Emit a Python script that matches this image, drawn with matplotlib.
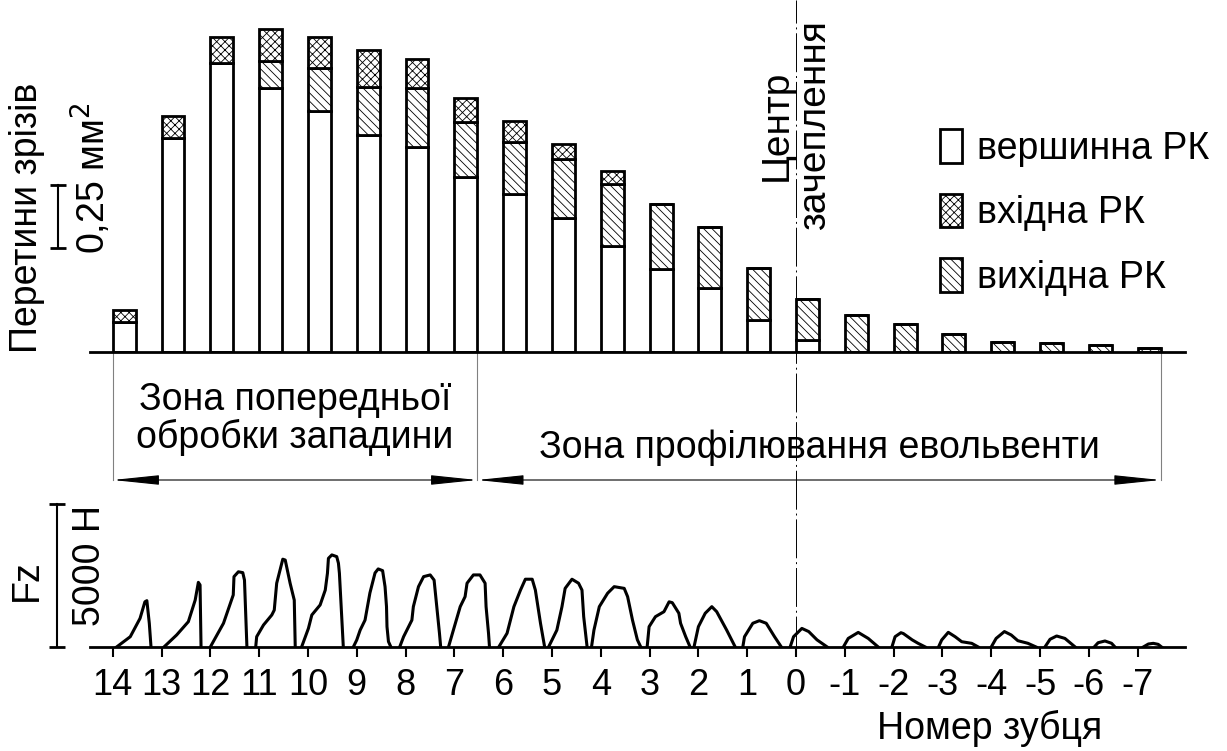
import numpy as np
import matplotlib
matplotlib.use('Agg')
import matplotlib.pyplot as plt
from matplotlib.patches import Patch
from matplotlib.lines import Line2D
from matplotlib.transforms import blended_transform_factory

plt.rcParams['font.family'] = ['Liberation Sans', 'DejaVu Sans']
plt.rcParams['hatch.linewidth'] = 0.6
plt.rcParams['hatch.color'] = 'black'

# tooth numbers, left to right
teeth = [14, 13, 12, 11, 10, 9, 8, 7, 6, 5, 4, 3, 2, 1, 0, -1, -2, -3, -4, -5, -6, -7]

# chip cross-section areas, mm^2
vershynna = [0.119, 0.849, 1.147, 1.048, 0.956, 0.861, 0.813, 0.694, 0.627, 0.532, 0.421,
             0.329, 0.254, 0.127, 0.048, 0, 0, 0, 0, 0, 0, 0]
vykhidna = [0, 0, 0, 0.107, 0.171, 0.190, 0.234, 0.218, 0.206, 0.234, 0.246,
            0.258, 0.242, 0.206, 0.163, 0.147, 0.111, 0.071, 0.040, 0.036, 0.028, 0.016]
vkhidna = [0.048, 0.087, 0.103, 0.127, 0.123, 0.147, 0.115, 0.095, 0.083, 0.060, 0.052,
           0, 0, 0, 0, 0, 0, 0, 0, 0, 0, 0]

# Fz force traces per tooth: position within tooth pitch and force, N
fz_dx = [
    [0.08, 0.36, 0.56, 0.66, 0.70, 0.75, 0.785],
    [0.05, 0.31, 0.55, 0.69, 0.755, 0.79, 0.81],
    [0.0, 0.27, 0.47, 0.485, 0.575, 0.665, 0.70, 0.75],
    [-0.07, -0.05, 0.09, 0.26, 0.31, 0.36, 0.485, 0.535, 0.635, 0.72, 0.74],
    [-0.13, 0.01, 0.08, 0.25, 0.355, 0.40, 0.42, 0.49, 0.59, 0.625, 0.645, 0.725],
    [-0.07, 0.0, 0.07, 0.17, 0.27, 0.375, 0.44, 0.53, 0.58, 0.61, 0.62, 0.65, 0.70],
    [-0.12, -0.04, 0.13, 0.16, 0.265, 0.37, 0.505, 0.585, 0.64, 0.695, 0.72],
    [-0.12, -0.02, 0.12, 0.22, 0.26, 0.39, 0.525, 0.63, 0.65, 0.70, 0.72],
    [-0.09, 0.08, 0.22, 0.355, 0.455, 0.595, 0.66, 0.765, 0.85],
    [-0.07, 0.10, 0.205, 0.27, 0.41, 0.545, 0.615, 0.65, 0.72],
    [-0.19, -0.14, -0.03, 0.14, 0.275, 0.48, 0.55, 0.65, 0.75, 0.82],
    [-0.05, -0.01, 0.12, 0.295, 0.40, 0.465, 0.60, 0.635, 0.74, 0.83],
    [-0.09, 0.0, 0.14, 0.275, 0.375, 0.58, 0.755],
    [-0.09, -0.055, 0.115, 0.25, 0.39, 0.56, 0.70],
    [-0.12, -0.05, 0.12, 0.26, 0.43, 0.64],
    [-0.03, 0.07, 0.275, 0.48, 0.685],
    [-0.035, 0.03, 0.15, 0.20, 0.38, 0.50, 0.65],
    [-0.08, -0.015, 0.12, 0.26, 0.395, 0.60, 0.735],
    [0.0, 0.10, 0.27, 0.41, 0.545, 0.75, 0.92],
    [0.10, 0.205, 0.34, 0.51, 0.72],
    [0.11, 0.19, 0.33, 0.465, 0.535],
    [0.115, 0.22, 0.32, 0.42, 0.49],
]
fz_n = [
    [0, 360, 1000, 1580, 1620, 830, 0],
    [0, 420, 885, 1640, 2260, 2170, 0],
    [0, 830, 1820, 2460, 2630, 2600, 2340, 0],
    [0, 360, 770, 1120, 1290, 2230, 3070, 3040, 2230, 1640, 0],
    [0, 650, 1120, 1470, 1990, 2580, 3100, 3220, 3160, 2930, 2580, 0],
    [0, 245, 590, 940, 1890, 2590, 2730, 2670, 2110, 1410, 710, 190, 0],
    [0, 360, 940, 1410, 2110, 2460, 2520, 2340, 1410, 480, 0],
    [0, 590, 1410, 1760, 2230, 2520, 2520, 2230, 1410, 480, 0],
    [0, 480, 1410, 1990, 2370, 2370, 1990, 830, 0],
    [0, 590, 1410, 2050, 2370, 2230, 1990, 1060, 0],
    [0, 590, 1410, 1880, 2110, 2050, 1760, 940, 250, 0],
    [0, 710, 1060, 1235, 1580, 1550, 1180, 830, 360, 0],
    [0, 710, 1180, 1410, 1235, 590, 0],
    [0, 360, 830, 920, 830, 360, 0],
    [0, 360, 650, 540, 250, 0],
    [0, 300, 510, 300, 0],
    [0, 360, 500, 470, 250, 130, 0],
    [0, 245, 513, 360, 185, 128, 0],
    [0, 300, 540, 420, 220, 130, 0],
    [0, 270, 385, 300, 0],
    [0, 150, 210, 130, 0],
    [0, 105, 128, 93, 0],
]

W, H = 1227, 751
def fx(px):
    return px / W
def fy(py):
    return 1 - py / H

pos = np.arange(len(teeth))
bar_w = 0.47
white = np.array(vershynna)
diag = np.array(vykhidna)
cross = np.array(vkhidna)
hatch_diag = '\\\\\\\\'
hatch_cross = 'xxxx'
fs = 27

fig = plt.figure(figsize=(W / 100, H / 100), dpi=100)
left, width = fx(90), fx(1185) - fx(90)
xlim = (-0.465, 21.97)

# upper panel: chip cross sections
ax = fig.add_axes([left, fy(352), width, 352 / H])
ax.set_xlim(*xlim)
ax.set_ylim(0, 352 / 252)
kw = dict(width=bar_w, align='edge', edgecolor='black', linewidth=2)
ax.bar(pos, white, color='white', **kw)
ax.bar(pos, diag, bottom=white, color='white', hatch=hatch_diag, **kw)
ax.bar(pos, cross, bottom=white + diag, color='white', hatch=hatch_cross, **kw)
for s in ['top', 'left', 'right']:
    ax.spines[s].set_visible(False)
ax.spines['bottom'].set_linewidth(2)
ax.set_xticks([])
ax.set_yticks([])

# scale bar 0.25 mm^2
ax.plot([-1.12, -1.12], [0.413, 0.413 + 0.25], color='black', lw=1.5,
        marker='_', ms=12, mew=2, clip_on=False)

# zones
z0 = pos[0]
z1 = pos[teeth.index(7)] + bar_w
z2 = pos[-1] + bar_w
xt = ax.get_xaxis_transform()
y_arr = (352 - 480) / 352
for z in [z0, z1, z2]:
    ax.plot([z, z], [0, y_arr], transform=xt, color='grey', lw=0.8, clip_on=False)
for a, b in [(z0, z1), (z1, z2)]:
    ax.annotate('', xy=(a, y_arr), xytext=(b, y_arr), xycoords=xt, textcoords=xt,
                arrowprops=dict(arrowstyle='<|-|>,head_length=2.9,head_width=0.3',
                                color='black', lw=0.8, shrinkA=0, shrinkB=0))
ax.text((z0 + z1) / 2, (352 - 419) / 352, 'Зона попередньої\nобробки западини',
        transform=xt, ha='center', va='center', fontsize=fs, linespacing=1.05)
ax.text((z1 + z2) / 2, (352 - 448) / 352, 'Зона профілювання евольвенти',
        transform=xt, ha='center', va='center', fontsize=fs)

# lower panel: Fz traces
axf = fig.add_axes([left, fy(647), width, 160 / H])
axf.set_xlim(*xlim)
axf.set_ylim(0, 160 * 5000 / 143)
for p, dx, f in zip(pos, fz_dx, fz_n):
    axf.plot(p + np.array(dx), f, color='black', lw=2.2, solid_joinstyle='round')
for s in ['top', 'left', 'right']:
    axf.spines[s].set_visible(False)
axf.spines['bottom'].set_linewidth(2)
axf.set_yticks([])
axf.set_xticks(pos)
axf.set_xticklabels([str(t) for t in teeth])
axf.tick_params(axis='x', direction='out', length=7, width=1.5, pad=8, labelsize=26)
axf.plot([-1.14, -1.14], [0, 5000], color='black', lw=1.5,
         marker='_', ms=12, mew=2, clip_on=False)

# engagement centre line
bt = blended_transform_factory(ax.transData, fig.transFigure)
x0 = pos[teeth.index(0)]
fig.add_artist(Line2D([x0, x0], [fy(655), fy(0)], transform=bt, color='black',
                      lw=0.7, linestyle=(0, (40, 4, 2, 4))))
fig.text(x0, fy(125), 'Центр\nзачеплення', transform=bt, rotation=90,
         ha='center', va='center', multialignment='center', fontsize=28, linespacing=1.1)

# legend
handles = [Patch(facecolor='white', edgecolor='black', lw=2),
           Patch(facecolor='white', edgecolor='black', lw=2, hatch=hatch_cross),
           Patch(facecolor='white', edgecolor='black', lw=2, hatch=hatch_diag)]
fig.legend(handles, ['вершинна РК', 'вхідна РК', 'вихідна РК'], loc='upper left',
           bbox_to_anchor=(fx(940), fy(129)), frameon=False, fontsize=fs,
           handlelength=0.59, handleheight=1.0, handletextpad=0.4,
           labelspacing=0.72, borderpad=0, borderaxespad=0)

# axis captions
fig.text(fx(27), fy(218), 'Перетини зрізів', rotation=90, ha='center', va='center', fontsize=fs)
fig.text(fx(92), fy(178), '0,25 мм$^2$', rotation=90, ha='center', va='center', fontsize=fs)
fig.text(fx(27), fy(580), 'Fz', rotation=90, ha='center', va='center', fontsize=fs)
fig.text(fx(90), fy(565), '5000 Н', rotation=90, ha='center', va='center', fontsize=fs)
fig.text(fx(990), fy(728), 'Номер зубця', ha='center', va='center', fontsize=fs)

fig.savefig('out.png', dpi=100)
